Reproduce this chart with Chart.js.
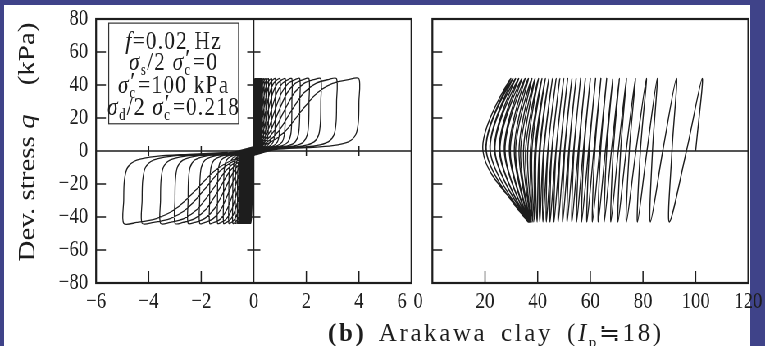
<!DOCTYPE html>
<html>
<head>
<meta charset="utf-8">
<script src="https://cdn.jsdelivr.net/npm/chart.js@4.4.1/dist/chart.umd.min.js"></script>
<style>
  html, body { margin: 0; padding: 0; }
  body { width: 765px; height: 346px; overflow: hidden; position: relative; background: #3f4389; }
  #paper { position: absolute; left: 4px; top: 5px; width: 746px; height: 341px; background: #fff; }
  /* the scanned figure is squeezed sideways, so draw wide and squeeze back */
  #squeeze { position: absolute; left: 0; top: 0; width: 933px; height: 346px; transform: scaleX(0.82); transform-origin: 0 0; }
  canvas { position: absolute; top: 0; }
  #caption { position: absolute; left: 328px; top: 318px; font: 25px "Liberation Serif", serif; color: #1d1d1d; white-space: nowrap; letter-spacing: 2.6px; word-spacing: 5px; }
  #caption sub { font-size: 15px; }
</style>
</head>
<body>
<div id="paper"></div>
<div id="squeeze">
  <canvas id="strainChart"></canvas>
  <canvas id="pathChart"></canvas>
</div>
<div id="caption"><b>(b)</b> Arakawa clay&nbsp;(<i>I</i><sub>p</sub>≒18)</div>

<script>
const S = 0.82;

// Left panel: axial strain (%) vs deviator stress q (kPa)
const strainTicks = [-6, -4, -2, 0, 2, 4, 6];
const stressTicks = [-80, -60, -40, -20, 0, 20, 40, 60, 80];

// strain at each positive / negative stress peak, cycle by cycle
const posTips = [0.04, 0.05, 0.06, 0.07, 0.08, 0.09, 0.10, 0.11, 0.12, 0.13, 0.14, 0.15, 0.16, 0.17, 0.18,
  0.19, 0.20, 0.22, 0.24, 0.26, 0.29, 0.33, 0.39, 0.46, 0.56, 0.68, 0.82, 1.0, 1.2, 1.45, 1.75, 2.1, 2.55, 3.15, 4.0];
const negTips = [-0.12, -0.14, -0.16, -0.18, -0.2, -0.22, -0.24, -0.26, -0.28, -0.3, -0.32, -0.34, -0.36, -0.38, -0.4,
  -0.42, -0.44, -0.46, -0.48, -0.5, -0.53, -0.57, -0.62, -0.7, -0.8, -0.95, -1.15, -1.38, -1.68, -2.06, -2.5, -3.0, -3.55, -4.25, -4.95];

// half loop: [fraction of peak strain, q]
const loadShape = [[0.02, 3], [0.15, 5], [0.3, 12], [0.45, 24], [0.6, 35], [0.75, 41], [0.9, 43.3], [1, 43.8]];
const unloadShape = [[1.0, 30], [0.995, 18], [0.97, 10], [0.9, 5.5], [0.75, 3.2], [0.5, 2], [0.2, 0.8]];

// Right panel: effective stress path, p' (kPa) vs q (kPa)
const pTicks = [0, 20, 40, 60, 80, 100, 120];
const pStart = 100;
const qPeaks = [44, -43];
const pTop = [102.5, 92.7, 85.4, 81.3, 77.1, 73.7, 71.0, 68.5, 66.2, 64.0, 62.0, 60.0, 58.1, 56.3, 54.6, 53.0, 51.4,
  49.9, 48.4, 47.0, 45.6, 44.2, 42.9, 41.6, 40.3, 39.0, 37.8, 36.5, 35.2, 34.0, 32.8, 31.6, 30.6, 29.8];
const pBot = [90.0, 82.8, 77.9, 73.7, 70.5, 67.8, 65.3, 63.0, 60.8, 58.7, 56.7, 54.8, 53.0, 51.2, 49.5, 47.8, 46.2,
  44.7, 43.3, 42.0, 40.8, 39.8, 38.9, 38.2, 37.6, 37.2, 36.9, 36.7, 36.6, 36.5, 36.5, 36.4, 36.4, 36.4];
const pZeroDown = [96.5, 87.5, 81.5, 77.3, 73.6, 70.6, 68.0, 65.7, 63.5, 61.3, 59.3, 57.3, 55.4, 53.6, 51.8, 50.1, 48.5,
  46.9, 45.3, 43.8, 42.2, 40.6, 38.9, 37.2, 35.4, 33.5, 31.6, 29.6, 27.6, 25.7, 23.8, 22.0, 20.5, 19.2];
const pZeroUp = [91.0, 83.6, 79.0, 74.8, 71.5, 68.7, 66.2, 63.9, 61.7, 59.6, 57.6, 55.7, 53.8, 52.0, 50.3, 48.6, 47.0,
  45.4, 43.9, 42.4, 40.9, 39.4, 37.8, 36.2, 34.6, 32.9, 31.1, 29.2, 27.3, 25.4, 23.6, 21.9, 20.4];

const ink = '#1d1d1d';
const serif = '"Liberation Serif", "Times New Roman", serif';

function fmt(v) {
  return v < 0 ? '\u2212' + Math.abs(v) : String(v);
}

// build the strain loops cycle by cycle
const strainPath = [{ x: 0, y: 0 }];
for (let i = 0; i < posTips.length; i++) {
  loadShape.forEach(([f, q]) => strainPath.push({ x: f * posTips[i], y: q }));
  unloadShape.forEach(([f, q]) => strainPath.push({ x: f * posTips[i], y: q }));
  loadShape.forEach(([f, q]) => strainPath.push({ x: f * negTips[i], y: -q }));
  unloadShape.forEach(([f, q]) => strainPath.push({ x: f * negTips[i], y: -q }));
}

// build the stress path
const stressPath = [{ x: pStart, y: 0 }];
for (let i = 0; i < pTop.length; i++) {
  stressPath.push({ x: pTop[i], y: qPeaks[0] });
  stressPath.push({ x: pZeroDown[i], y: 0 });
  stressPath.push({ x: pBot[i], y: qPeaks[1] });
  if (i < pZeroUp.length) stressPath.push({ x: pZeroUp[i], y: 0 });
}

// text with sub/superscripts, centred on cx
function drawRich(ctx, parts, cx, cy, size, spacing) {
  const small = Math.round(size * 0.62);
  const fontOf = k => (k === 'i' ? 'italic ' : '') + (k === 'sub' || k === 'ss' ? small : size) + 'px ' + serif;
  ctx.letterSpacing = (spacing || 0) + 'px';
  const widthOf = p => {
    ctx.font = fontOf(p[1]);
    if (p[1] === 'ss') return ctx.measureText(p[0][0]).width + 2;
    return ctx.measureText(p[0]).width;
  };
  let x = cx - parts.reduce((s, p) => s + widthOf(p), 0) / 2;
  ctx.textBaseline = 'middle';
  ctx.textAlign = 'left';
  parts.forEach(p => {
    const w = widthOf(p);
    ctx.font = fontOf(p[1]);
    if (p[1] === 'ss') {
      ctx.fillText(p[0][0], x, cy + size * 0.3);
      ctx.font = size + 'px ' + serif;
      ctx.fillText(p[0][1], x + 1, cy - size * 0.12);
    } else {
      ctx.fillText(p[0], x, cy + (p[1] === 'sub' ? size * 0.3 : 0));
    }
    x += w;
  });
  ctx.letterSpacing = '0px';
}

// frame, zero lines and inward ticks
const framePlugin = {
  id: 'frame',
  beforeDatasetsDraw(chart, args, opts) {
    const { ctx, chartArea: a, scales: { x, y } } = chart;
    const y0 = y.getPixelForValue(0);
    const inner = v => v !== 0 && v !== x.min && v !== x.max;
    const innerY = v => v !== 0 && v !== y.min && v !== y.max;
    ctx.save();
    ctx.strokeStyle = ink;
    ctx.lineWidth = 1.5;
    ctx.beginPath();
    ctx.moveTo(a.left, y0);
    ctx.lineTo(a.right, y0);
    if (opts.zeroX) {
      const x0 = x.getPixelForValue(0);
      ctx.moveTo(x0, a.top);
      ctx.lineTo(x0, a.bottom);
      y.ticks.forEach(t => {
        if (!innerY(t.value)) return;
        const py = y.getPixelForValue(t.value);
        ctx.moveTo(x0 - 8, py);
        ctx.lineTo(x0 + 8, py);
      });
      x.ticks.forEach(t => {
        if (!inner(t.value)) return;
        const px = x.getPixelForValue(t.value);
        ctx.moveTo(px, y0 - 5);
        ctx.lineTo(px, y0 + 5);
      });
    }
    y.ticks.forEach(t => {
      if (t.value === y.min || t.value === y.max) return;
      const py = y.getPixelForValue(t.value);
      ctx.moveTo(a.left, py);
      ctx.lineTo(a.left + 12, py);
    });
    x.ticks.forEach(t => {
      if (t.value === x.min || t.value === x.max) return;
      const px = x.getPixelForValue(t.value);
      ctx.moveTo(px, a.bottom);
      ctx.lineTo(px, a.bottom - 12);
    });
    ctx.stroke();
    ctx.restore();
  },
  afterDatasetsDraw(chart) {
    const { ctx, chartArea: a } = chart;
    ctx.save();
    ctx.strokeStyle = ink;
    ctx.lineWidth = 2.2;
    ctx.strokeRect(a.left, a.top, a.right - a.left, a.bottom - a.top);
    ctx.restore();
  }
};

// test conditions box and y title on the left panel
const notesPlugin = {
  id: 'notes',
  afterDraw(chart) {
    const { ctx, scales: { x, y } } = chart;
    const left = x.getPixelForValue(-5.52), right = x.getPixelForValue(-0.58);
    const top = y.getPixelForValue(77.5), bottom = y.getPixelForValue(16.5);
    ctx.save();
    ctx.strokeStyle = '#333';
    ctx.lineWidth = 1.2;
    ctx.strokeRect(left, top, right - left, bottom - top);
    ctx.fillStyle = ink;
    const cx = (left + right) / 2;
    drawRich(ctx, [['f', 'i'], ['=0.02 Hz', 'n']], cx, y.getPixelForValue(66), 26, 1.5);
    drawRich(ctx, [['σ', 'i'], ['s', 'sub'], ['/2 ', 'n'], ['σ', 'i'], [['c', '\u2032'], 'ss'], ['=0', 'n']], cx, y.getPixelForValue(53.3), 26, 1.5);
    drawRich(ctx, [['σ', 'i'], [['c', '\u2032'], 'ss'], ['=100 kPa', 'n']], cx, y.getPixelForValue(39.4), 26, 1.5);
    drawRich(ctx, [['σ', 'i'], ['d', 'sub'], ['/2 ', 'n'], ['σ', 'i'], [['c', '\u2032'], 'ss'], ['=0.218', 'n']], cx, y.getPixelForValue(26), 26, 1.5);

    ctx.translate(29, (chart.chartArea.top + chart.chartArea.bottom) / 2 - 9);
    ctx.rotate(-Math.PI / 2);
    drawRich(ctx, [['Dev. stress ', 'n'], ['q', 'i'], ['    (kPa)', 'n']], 0, 0, 29);
    ctx.restore();
  }
};

function setup(id, leftPx, widthPx) {
  const c = document.getElementById(id);
  c.width = Math.round(widthPx / S);
  c.height = 346;
  c.style.left = (leftPx / S) + 'px';
  return c;
}

// labels at the panel joint are set off to one side, as in the print
function axis(ticksArr, min, max, showLabels, size, padding, label) {
  return {
    type: 'linear',
    min: min,
    max: max,
    afterBuildTicks: s => { s.ticks = ticksArr.map(v => ({ value: v })); },
    ticks: {
      display: showLabels,
      autoSkip: false,
      maxRotation: 0,
      padding: padding,
      color: ink,
      font: { family: serif, size: 23 },
      callback: label || (v => fmt(v))
    },
    grid: { display: false, drawTicks: false },
    border: { display: false },
    afterFit: s => {
      if (s.isHorizontal()) s.height = size; else s.width = size;
      s.paddingLeft = 0;
      s.paddingRight = 0;
      s.paddingTop = 0;
      s.paddingBottom = 0;
    }
  };
}

function lineSet(points, width, tension) {
  return {
    data: points,
    showLine: true,
    borderColor: ink,
    borderWidth: width,
    tension: tension,
    pointRadius: 0,
    fill: false
  };
}

new Chart(setup('strainChart', 4, 417), {
  type: 'scatter',
  data: { datasets: [lineSet(strainPath, 1.3, 0.3)] },
  options: {
    responsive: false,
    animation: false,
    devicePixelRatio: 1,
    layout: { padding: { top: 19, right: 12.2, left: 0, bottom: 0 } },
    plugins: { legend: { display: false }, tooltip: { enabled: false }, frame: { zeroX: true } },
    scales: {
      x: axis(strainTicks, -6, 6, true, 63, 5, v => v === 6 ? '6\u2003' : fmt(v)),
      y: axis(stressTicks, -80, 80, true, 112.2, 9.8)
    }
  },
  plugins: [framePlugin, notesPlugin]
});

new Chart(setup('pathChart', 405, 360), {
  type: 'scatter',
  data: { datasets: [lineSet(stressPath, 1.4, 0.35)] },
  options: {
    responsive: false,
    animation: false,
    devicePixelRatio: 1,
    layout: { padding: { top: 19, right: 20.4, left: 0, bottom: 0 } },
    plugins: { legend: { display: false }, tooltip: { enabled: false }, frame: { zeroX: false } },
    scales: {
      x: axis(pTicks, 0, 120, true, 63, 5, v => v === 0 ? '0\u2003\u2002' : fmt(v)),
      y: axis(stressTicks, -80, 80, false, 33.3, 0)
    }
  },
  plugins: [framePlugin]
});
</script>
</body>
</html>
